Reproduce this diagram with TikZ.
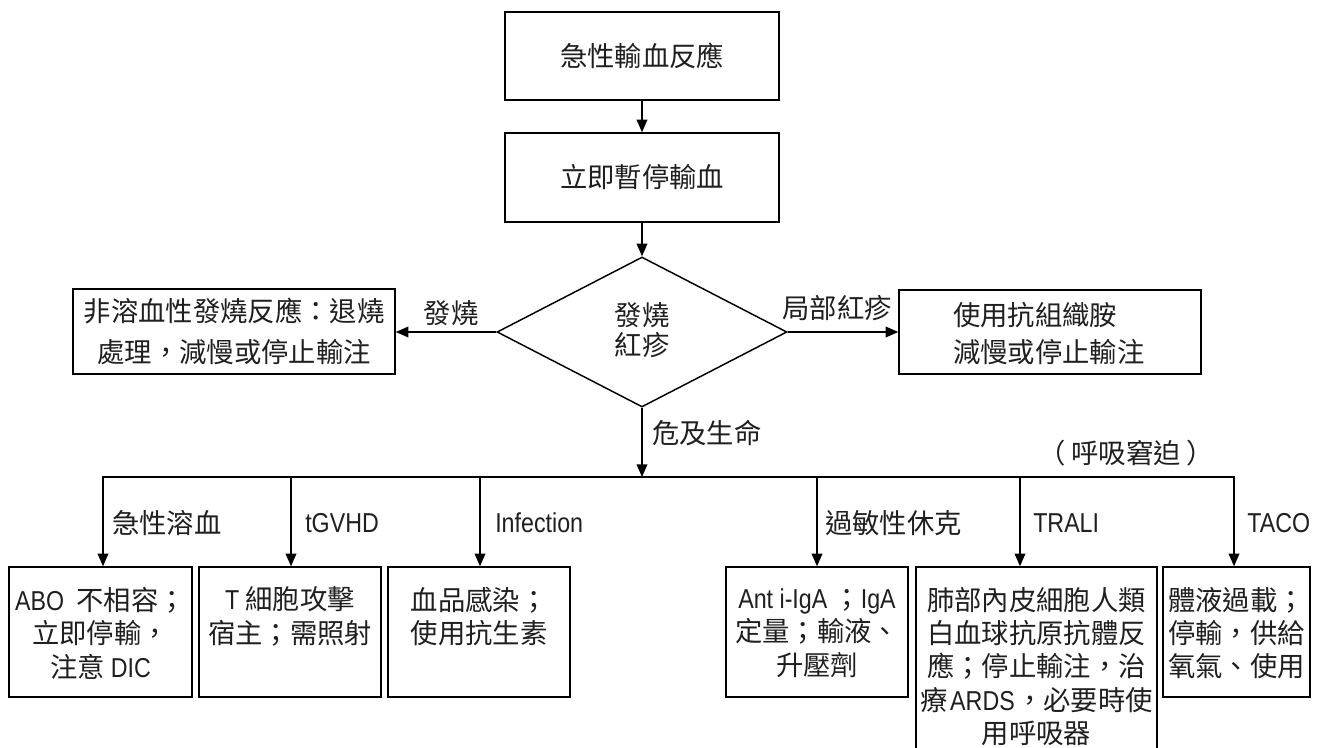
\documentclass[tikz,border=0pt]{standalone}
\usepackage{fontspec}
\setmainfont{Noto Sans CJK TC}
\newfontfamily\lat[FakeStretch=0.85]{Liberation Sans}
\usetikzlibrary{arrows.meta,shapes.geometric}
\newcommand{\en}[1]{{\lat #1}}
\begin{document}
\begin{tikzpicture}[x=0.75pt,y=-0.75pt,
  every node/.style={font=\fontsize{20.5}{25}\selectfont, inner sep=0pt, text=black!88},
  box/.style={draw, line width=1.1pt, rectangle},
  conn/.style={line width=1.1pt},
  arr/.style={conn, -{Triangle[length=9.5pt,width=8pt]}},
  txt/.style={align=center}
]
\useasboundingbox (0,0) rectangle (1317,747);
\fill[white] (0,0) rectangle (1317,747);

% top chain
\node[box, minimum width=205.5pt, minimum height=66pt] (top) at (642,56) {急性輸血反應};
\node[box, minimum width=205.5pt, minimum height=66.75pt] (stop) at (642,177.5) {立即暫停輸血};
\node[draw, line width=1.1pt, diamond, minimum width=217.5pt, minimum height=112.5pt] (dia) at (642,332) {};
\node[txt, font=\fontsize{20.5}{22.5}\selectfont] (diat) at (642,330) {發燒\\紅疹};

% side boxes
\node[box, minimum width=241.5pt, minimum height=63.75pt, align=center, font=\fontsize{20.5}{30.5}\selectfont] (lbox) at (234,331.5) {非溶血性發燒反應：退燒\\處理，減慢或停止輸注};
\node[box, minimum width=226.5pt, minimum height=63pt] (rbox) at (1050,332) {};
\node[align=left, anchor=west, font=\fontsize{20.5}{27.75}\selectfont] (rtxt) at (953,333.5) {使用抗組織胺\\減慢或停止輸注};

\draw[arr] (top) -- (stop);
\draw[arr] (stop) -- (dia.north);
\draw[arr] (dia.west) -- (lbox.east |- dia.west);
\draw[arr] (dia.east) -- (rbox.west |- dia.east);
\node (lfever) at (451,313) {發燒};
\node (lrash) at (837,308) {局部紅疹};
\node[anchor=west] (llife) at (652,433) {危及生命};

% bus
\coordinate (bus) at (642,477);
\coordinate (c1) at (103,477);
\coordinate (c2) at (291,477);
\coordinate (c3) at (480,477);
\coordinate (c4) at (817,477);
\coordinate (c5) at (1020,477);
\coordinate (c6) at (1234,477);
\draw[arr] (dia.south) -- (bus);
\draw[conn, line cap=rect] (c1) -- (c6);
\node (lresp) at (1126,453) {（\hspace{4pt}呼吸窘迫\hspace{4pt}）};

% bottom boxes
\node[box, minimum width=137.25pt, minimum height=97.5pt] (b1) at (100.5,632) {};
\node[box, minimum width=136.5pt, minimum height=97.5pt] (b2) at (290,632) {};
\node[box, minimum width=136.5pt, minimum height=97.5pt] (b3) at (479,632) {};
\node[box, minimum width=136.5pt, minimum height=97.5pt] (b4) at (817,632) {};
\node[box, minimum width=180.75pt, minimum height=144.75pt] (b5) at (1036.5,663.5) {};
\node[box, minimum width=110.25pt, minimum height=97.5pt] (b6) at (1236.5,632) {};

\draw[arr] (c1) -- (c1 |- b1.north);
\draw[arr] (c2) -- (c2 |- b2.north);
\draw[arr] (c3) -- (c3 |- b3.north);
\draw[arr] (c4) -- (c4 |- b4.north);
\draw[arr] (c5) -- (c5 |- b5.north);
\draw[arr] (c6) -- (c6 |- b6.north);

\node[anchor=west] (l1) at (112,523) {急性溶血};
\node[anchor=west] (l2) at (305,523) {\en{tGVHD}};
\node[anchor=west] (l3) at (495,523) {\en{Infection}};
\node[anchor=west] (l4) at (825,523) {過敏性休克};
\node[anchor=west] (l5) at (1033,523) {\en{TRALI}};
\node[anchor=west] (l6) at (1247,523) {\en{TACO}};

\node[txt] (t1) at (100.5,633.3) {\en{ABO}\ \ 不相容；\\立即停輸，\\注意 \en{DIC}};
\node[txt] (t2) at (290,616.5) {\en{T} 細胞攻擊\\宿主；需照射};
\node[txt] (t3) at (479,616.5) {血品感染；\\使用抗生素};
\node[txt] (t4) at (817,633) {\en{Ant i-IgA} ；\en{IgA}\\定量；輸液、\\升壓劑};
\node[txt] (t5) at (1036.5,666.5) {肺部內皮細胞人類\\白血球抗原抗體反\\應；停止輸注，治\\療\hspace{2pt}\en{ARDS}\hspace{1pt}，必要時使\\用呼吸器};
\node[txt] (t6) at (1236.5,633) {體液過載；\\停輸，供給\\氧氣、使用};
\end{tikzpicture}
\end{document}
